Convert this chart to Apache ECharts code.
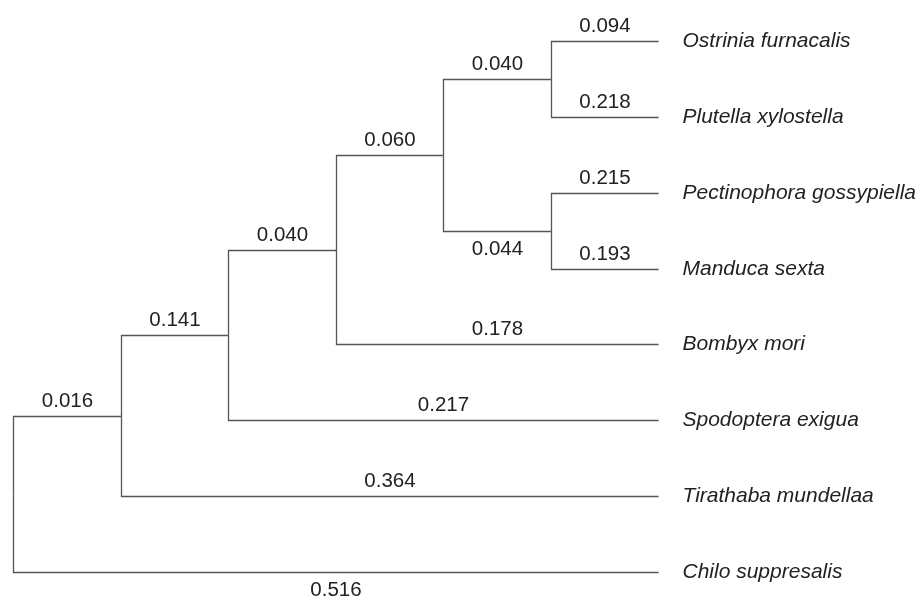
<!DOCTYPE html>
<html><head><meta charset="utf-8">
<script src="https://cdn.jsdelivr.net/npm/echarts@6/dist/echarts.min.js"></script>
<style>html,body{margin:0;background:#fff}#c{width:920px;height:599px}</style>
</head><body><div id="c"></div>
<script>
// Tree structure (node names, parent of each node) and branch lengths
const nodeNames = ['root', 'n1', 'n2', 'n3', 'n4', 'n5', 'n6',
  'Ostrinia furnacalis', 'Plutella xylostella', 'Pectinophora gossypiella', 'Manduca sexta',
  'Bombyx mori', 'Spodoptera exigua', 'Tirathaba mundellaa', 'Chilo suppresalis'];
const parents = [null, 'root', 'n1', 'n2', 'n3', 'n4', 'n4',
  'n5', 'n5', 'n6', 'n6', 'n3', 'n2', 'n1', 'root'];
const branchLengths = [null, 0.016, 0.141, 0.040, 0.060, 0.040, 0.044,
  0.094, 0.218, 0.215, 0.193, 0.178, 0.217, 0.364, 0.516];
const leafOrder = ['Ostrinia furnacalis', 'Plutella xylostella', 'Pectinophora gossypiella',
  'Manduca sexta', 'Bombyx mori', 'Spodoptera exigua', 'Tirathaba mundellaa', 'Chilo suppresalis'];
// labels drawn under their branch instead of above (style choice)
const labelBelow = ['n6', 'Chilo suppresalis'];

// ---- layout computed from the tree ----
const children = {};
nodeNames.forEach(n => children[n] = []);
parents.forEach((p, i) => { if (p) children[p].push(nodeNames[i]); });
const depth = {};
function setDepth(n, d) { depth[n] = d; children[n].forEach(c => setDepth(c, d + 1)); }
setDepth('root', 0);
const maxDepth = Math.max(...Object.values(depth));
const posY = {};
function getY(n) {
  if (children[n].length === 0) { posY[n] = leafOrder.indexOf(n); return posY[n]; }
  const ys = children[n].map(getY);
  posY[n] = ys.reduce((a, b) => a + b, 0) / ys.length;
  return posY[n];
}
getY('root');
const posX = {};
nodeNames.forEach(n => { posX[n] = children[n].length === 0 ? maxDepth : depth[n]; });

const edges = [];
nodeNames.forEach((n, i) => {
  const p = parents[i];
  if (!p) return;
  edges.push([posX[p], posY[p], posX[n], posY[n], branchLengths[i].toFixed(3),
    labelBelow.includes(n) ? 1 : 0, children[n].length === 0 ? n : '']);
});

const chart = echarts.init(document.getElementById('c'));
const FONT = '"Liberation Sans", Arial, Helvetica, sans-serif';
chart.setOption({
  animation: false,
  backgroundColor: '#fff',
  grid: { left: 13, right: 262, top: 41, bottom: 27 },
  xAxis: { type: 'value', min: 0, max: maxDepth, show: false },
  yAxis: { type: 'value', min: 0, max: leafOrder.length - 1, inverse: true, show: false },
  series: [{
    type: 'custom',
    coordinateSystem: 'cartesian2d',
    data: edges,
    encode: { x: [0, 2], y: [1, 3] },
    renderItem: function (params, api) {
      const p = api.coord([api.value(0), api.value(1)]);
      const c = api.coord([api.value(2), api.value(3)]);
      const r = v => Math.round(v) + 0.5;
      const px = r(p[0]), py = r(p[1]), cx = r(c[0]), cy = r(c[1]);
      const label = edges[params.dataIndex][4];
      const below = edges[params.dataIndex][5];
      const leaf = edges[params.dataIndex][6];
      const els = [{
        type: 'polyline',
        shape: { points: [[px, py], [px, cy], [cx, cy]] },
        style: { stroke: '#555', lineWidth: 1.3, fill: null }
      }, {
        type: 'text',
        x: (px + cx) / 2, y: below ? cy + 18 : cy - 15,
        style: { text: label, fontSize: 20.5, fontFamily: FONT, fill: '#222',
          align: 'center', verticalAlign: 'middle' }
      }];
      if (leaf) {
        els.push({
          type: 'text',
          x: cx + 24, y: cy,
          style: { text: leaf, fontSize: 21, fontFamily: FONT, fontStyle: 'italic', fill: '#222',
            align: 'left', verticalAlign: 'middle' }
        });
      }
      return { type: 'group', children: els };
    }
  }]
});
</script>
</body></html>
